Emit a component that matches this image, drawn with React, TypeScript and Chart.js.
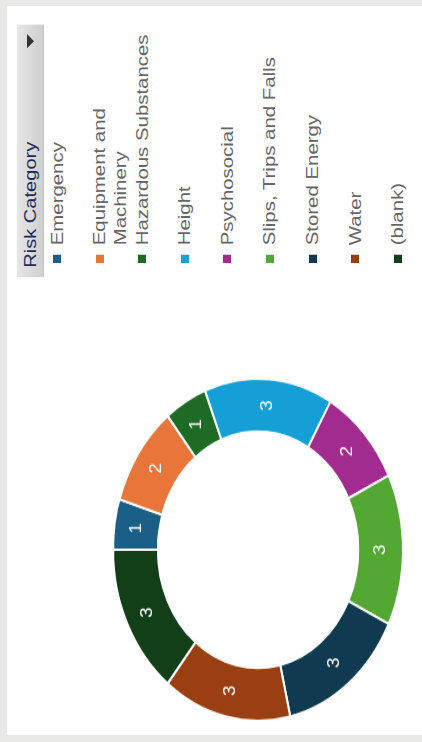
import React, { useEffect, useRef } from "react";
import { Chart, registerables } from "chart.js";

Chart.register(...registerables);

const categories = [
  "Emergency",
  "Equipment and Machinery",
  "Hazardous Substances",
  "Height",
  "Psychosocial",
  "Slips, Trips and Falls",
  "Stored Energy",
  "Water",
  "(blank)",
];
const counts = [1, 2, 1, 3, 2, 3, 3, 3, 3];
const colors = [
  "#1a5f86",
  "#e8763a",
  "#1e6b26",
  "#14a0d6",
  "#a12b8f",
  "#52a832",
  "#0f3a50",
  "#9a3f12",
  "#123f17",
];
const legendTitle = "Risk Category";

const STRETCH = 1.18;
const PANEL_W = 415;
const PANEL_H = 729;
const FONT = '"Liberation Sans", Arial, sans-serif';

const arcLabels = {
  id: "arcLabels",
  afterDatasetsDraw(chart: any) {
    const ctx = chart.ctx;
    const meta = chart.getDatasetMeta(0);
    ctx.save();
    ctx.fillStyle = "#ffffff";
    ctx.font = `16px ${FONT}`;
    ctx.textAlign = "center";
    ctx.textBaseline = "middle";
    meta.data.forEach((arc: any, i: number) => {
      const p = arc.tooltipPosition(false);
      ctx.fillText(String(chart.data.datasets[0].data[i]), p.x, p.y);
    });
    ctx.restore();
  },
};

function Donut() {
  const ref = useRef<HTMLCanvasElement | null>(null);
  useEffect(() => {
    if (!ref.current) return;
    const chart = new Chart(ref.current, {
      type: "doughnut",
      data: {
        labels: categories,
        datasets: [
          {
            data: counts,
            backgroundColor: colors,
            borderColor: "#ffffff",
            borderWidth: 2,
          },
        ],
      },
      options: {
        responsive: false,
        animation: false,
        radius: 145,
        cutout: 103,
        layout: { padding: 0 },
        plugins: {
          legend: { display: false },
          tooltip: { enabled: false },
        },
      } as any,
      plugins: [arcLabels],
    });
    return () => chart.destroy();
  }, []);
  return (
    <canvas
      ref={ref}
      width={300}
      height={300}
      style={{ position: "absolute", left: 7.2, top: 101, width: 300, height: 300 }}
    />
  );
}

export default function App() {
  const innerW = PANEL_H / STRETCH;
  return (
    <div
      style={{
        position: "fixed",
        left: 0,
        top: 0,
        width: 422,
        height: 742,
        background: "#e8e8e6",
        overflow: "hidden",
      }}
    >
      <div
        style={{
          position: "absolute",
          left: 7,
          top: 6,
          width: PANEL_W + 10,
          height: PANEL_H,
          background: "#ffffff",
          overflow: "hidden",
        }}
      >
        <div
          style={{
            position: "absolute",
            left: 0,
            top: 0,
            width: innerW,
            height: PANEL_W,
            transformOrigin: "0 0",
            transform: `translateY(${PANEL_H}px) rotate(-90deg) scaleX(${STRETCH})`,
            fontFamily: FONT,
          }}
        >
          <Donut />
          {/* legend header */}
          <div
            style={{
              position: "absolute",
              left: 388,
              top: 10,
              width: 214,
              height: 27,
              background: "linear-gradient(#e6e6e6, #cfcfcf)",
              boxSizing: "border-box",
              borderBottom: "1px solid #c4c4c4",
            }}
          >
            <span
              style={{
                position: "absolute",
                left: 8,
                top: 0,
                lineHeight: "27px",
                fontSize: 17,
                color: "#1d2b5c",
                whiteSpace: "nowrap",
              }}
            >
              {legendTitle}
            </span>
            <div
              style={{
                position: "absolute",
                left: 194,
                top: 10,
                width: 0,
                height: 0,
                borderLeft: "6px solid transparent",
                borderRight: "6px solid transparent",
                borderTop: "7px solid #333333",
              }}
            />
          </div>
          {/* legend items */}
          <div style={{ position: "absolute", left: 400, top: 39.5 }}>
            {categories.map((c, i) => (
              <div key={c} style={{ position: "relative", height: 42.6 }}>
                <div
                  style={{
                    position: "absolute",
                    left: 0,
                    top: 6.5,
                    width: 7,
                    height: 8,
                    background: colors[i],
                  }}
                />
                <div
                  style={{
                    position: "absolute",
                    left: 15,
                    top: 0,
                    width: 186,
                    fontSize: 17.3,
                    lineHeight: "21px",
                    color: "#666666",
                  }}
                >
                  {c}
                </div>
              </div>
            ))}
          </div>
        </div>
      </div>
    </div>
  );
}
